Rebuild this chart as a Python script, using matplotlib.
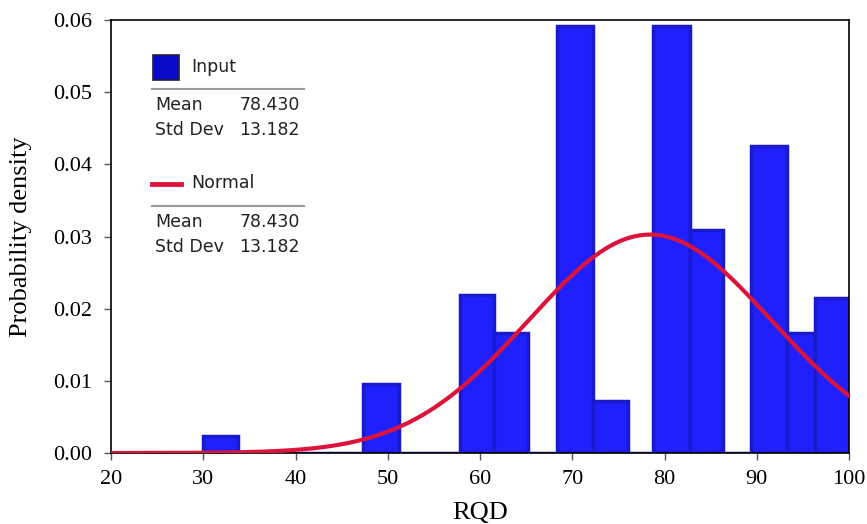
import numpy as np
import matplotlib.pyplot as plt
from matplotlib.patches import Rectangle
from matplotlib.lines import Line2D

# Histogram bars (bin left edge, right edge, density)
bin_left = [30.0, 47.3, 57.8, 61.5, 68.4, 72.3, 78.8, 82.8, 89.4, 93.3, 96.3]
bin_right = [33.8, 51.2, 61.5, 65.2, 72.3, 76.0, 82.8, 86.3, 93.3, 96.3, 100.0]
density = [0.0024, 0.0096, 0.0219, 0.0166, 0.0592, 0.0072, 0.0592, 0.0309, 0.0426, 0.0166, 0.0215]

# Fitted normal distribution (from the legend)
mean = 78.430
std = 13.182

x_ticks = [20, 30, 40, 50, 60, 70, 80, 90, 100]
y_ticks = [0.00, 0.01, 0.02, 0.03, 0.04, 0.05, 0.06]

W, H = 867, 524
fig = plt.figure(figsize=(W / 100, H / 100), dpi=100)
ax = fig.add_axes([111 / W, 1 - 453 / H, (849 - 111) / W, (453 - 20) / H])

bar_face = '#2020ff'
bar_edge = '#1a1acc'

# baseline of empty bins
ax.plot([20, 100], [0, 0], color=bar_edge, lw=2.5, zorder=1, solid_capstyle='butt')

widths = np.array(bin_right) - np.array(bin_left)
ax.bar(bin_left, density, width=widths, align='edge', color=bar_face,
       edgecolor=bar_edge, linewidth=2.5, zorder=2)

xs = np.linspace(20, 100, 400)
pdf = np.exp(-0.5 * ((xs - mean) / std) ** 2) / (std * np.sqrt(2 * np.pi))
ax.plot(xs, pdf, color='#dc143c', lw=3, zorder=3)

ax.set_xlim(20, 100)
ax.set_ylim(0, 0.06)
ax.set_xticks(x_ticks)
ax.set_yticks(y_ticks)
ax.set_yticklabels(['%.2f' % v for v in y_ticks])

serif = 'Liberation Serif'
for lab in ax.get_xticklabels() + ax.get_yticklabels():
    lab.set_fontfamily(serif)
    lab.set_fontsize(16)
ax.tick_params(direction='out', length=5, width=1, color='#555555')
ax.tick_params(axis='x', pad=7.5)
ax.tick_params(axis='y', pad=8.5)
ax.set_xlabel('RQD', fontfamily=serif, fontsize=19, labelpad=9)
ax.set_ylabel('Probability density', fontfamily=serif, fontsize=19, labelpad=15)
for s in ax.spines.values():
    s.set_linewidth(1.2)
    s.set_color('black')


# legend panel, positioned in figure pixels
def fx(px):
    return px / W


def fy(py):
    return 1 - py / H


lf = 'DejaVu Sans'
fs = 12.5
tc = '#222222'
fig.patches.append(Rectangle((fx(153), fy(80)), fx(26), 25 / H, transform=fig.transFigure,
                             facecolor='#0a0ac8', edgecolor='#202040', lw=1.2, zorder=5))
fig.text(fx(191), fy(67), 'Input', fontfamily=lf, fontsize=fs, va='center', color=tc)
fig.add_artist(Line2D([fx(152), fx(304)], [fy(89), fy(89)], color='#999999', lw=1.5))
fig.text(fx(155), fy(105), 'Mean', fontfamily=lf, fontsize=fs, va='center', color=tc)
fig.text(fx(300), fy(105), '%.3f' % mean, fontfamily=lf, fontsize=fs, va='center', ha='right', color=tc)
fig.text(fx(155), fy(130), 'Std Dev', fontfamily=lf, fontsize=fs, va='center', color=tc)
fig.text(fx(300), fy(130), '%.3f' % std, fontfamily=lf, fontsize=fs, va='center', ha='right', color=tc)

fig.add_artist(Line2D([fx(152), fx(181)], [fy(184), fy(184)], color='#dc143c', lw=3.5))
fig.text(fx(191), fy(183), 'Normal', fontfamily=lf, fontsize=fs, va='center', color=tc)
fig.add_artist(Line2D([fx(152), fx(304)], [fy(206), fy(206)], color='#999999', lw=1.5))
fig.text(fx(155), fy(222), 'Mean', fontfamily=lf, fontsize=fs, va='center', color=tc)
fig.text(fx(300), fy(222), '%.3f' % mean, fontfamily=lf, fontsize=fs, va='center', ha='right', color=tc)
fig.text(fx(155), fy(247), 'Std Dev', fontfamily=lf, fontsize=fs, va='center', color=tc)
fig.text(fx(300), fy(247), '%.3f' % std, fontfamily=lf, fontsize=fs, va='center', ha='right', color=tc)

fig.savefig('out.png', dpi=100)
